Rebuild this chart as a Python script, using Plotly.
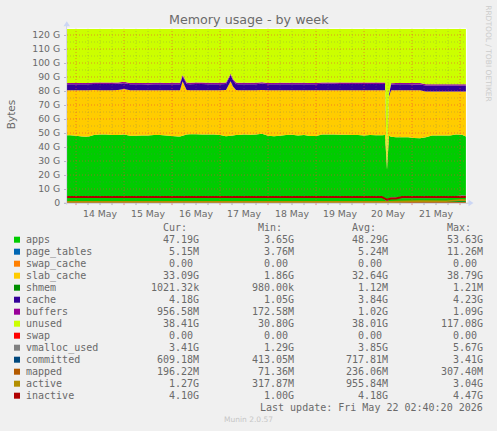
import plotly.graph_objects as go

hours = [-6,-3,0,3,6, 9,12,15,18,21, 24,27,30,33,36, 39,42,45,48,51,
         52,53.3,55.3,57,60, 63,66,69,72,75, 77.3,78.5,80,81,84, 87,90,93,96,99,
         102,105,108,111,114, 117,120,123,126,129, 132,135,138,141,144, 147,150,153,154.5,155.5,
         156.5,157.5,160,163,166, 169,172,175,178,181, 184,187,190,193,195, 198]
apps = [48.4,48.4,48.0,47.5,47.4, 48.5,49,49,48.5,48.5, 49,48,48,48.2,48.3, 48.5,48.5,48.2,47.8,47.5,
        47.5,48,49,49.2,49.2, 49,49,49,48.5,47.7, 48,48.3,48.6,48.5,49, 48.8,49,49.5,48,47.7,
        48,48.5,48.7,48.3,48.5, 47.8,47.8,49,49,49, 48.8,48.8,48.5,48.5,48.3, 48.5,48.4,48.4,48.5,24,
        48,47.3,47,47,47, 46.5,46.3,47,48.2,48.2, 48.2,48.2,49,48.8,47.5, 47.3]
slab_cache = [32.2,32.2,32.6,33.1,33.2, 32.2,31.6,31.6,32.1,32.3, 32.4,32.6,32.6,32.3,32.2, 32.1,32.1,32.4,32.8,33.1,
              33.1,39,31.8,31.4,31.4, 31.6,31.6,31.6,32.1,33.0, 39,35,32.1,32.1,31.6, 31.8,31.6,31.2,32.6,32.9,
              32.6,32.1,31.9,32.3,32.1, 32.8,32.8,31.6,31.6,31.6, 31.8,31.8,32.1,32.1,32.3, 32.1,32.2,32.2,32.1,2,
              28,33.2,33.6,33.6,33.6, 34,34.2,32.7,31.5,31.5, 31.5,31.5,30.7,30.9,32.2, 32.4]
cache = [4.2,4.2,4.2,4.3,4.3, 4.3,4.4,4.4,4.4,4.4, 4.2,4.3,4.3,4.3,4.2, 4.3,4.3,4.3,4.3,4.3,
         4.3,3.6,4.2,4.3,4.4, 4.4,4.3,4.3,4.3,4.3, 4.4,4.4,4.3,4.3,4.3, 4.3,4.3,4.6,4.3,4.3,
         4.3,4.3,4.3,4.3,4.3, 4.2,4.2,4.5,4.5,4.5, 4.4,4.4,4.4,4.4,4.4, 4.4,4.4,4.4,4.4,1.2,
         1.6,4.1,4.2,4.2,4.2, 4.2,4.2,4.2,4.2,4.2, 4.2,4.2,4.2,4.2,4.2, 4.2]
buffers = [1.0,1.0,0.9,0.9,0.9, 1.0,1.0,1.0,1.0,0.9, 1.0,0.9,0.9,0.9,1.0, 1.0,1.0,0.9,1.0,1.0,
           1.0,0.9,1.0,1.0,1.0, 1.0,1.0,1.0,1.0,1.0, 0.9,0.9,1.0,1.0,1.0, 1.0,1.0,1.0,0.9,0.9,
           1.0,1.0,1.0,1.0,1.0, 0.9,1.0,1.0,1.0,1.0, 1.0,1.0,1.0,1.0,1.0, 1.0,1.0,1.0,1.0,0.2,
           0.4,1.0,1.0,1.0,1.0, 1.0,1.0,0.9,1.0,1.0, 1.0,1.0,1.0,1.0,1.0, 1.0]
unused = [39,39,39,39,39, 39,39,39,39,39, 39,39,39,39,39, 39,39,39,39,39,
          39,33,39,39,39, 39,39,39,39,39, 33,37,39,39,39, 39,39,39,39,39,
          39,39,39,39,39, 39,39,39,39,39, 39,39,39,39,39, 39,39,39,39,98,
          47,39,39,39,39, 39,39,40,40,40, 40,40,40,40,40, 40]

line_hours = [-6,24,48,72,96,120,144,153,155.5,157.5,160,163,172,185,190,193,198]
vmalloc_used = [4.6,4.6,4.7,4.4,4.5,4.4,4.5,4.4,1.5,3.8,3.9,3.9,4.0,3.9,4.6,5.2,4.4]
committed = [0.7,0.7,0.7,0.7,0.7,0.7,0.7,0.7,0.5,0.6,0.6,0.6,0.6,0.6,0.6,0.6,0.6]
mapped = [0.24,0.24,0.24,0.24,0.24,0.24,0.24,0.24,0.1,0.2,0.2,0.2,0.2,0.2,0.2,0.2,0.2]
active = [0.9,0.9,0.9,0.9,0.9,0.9,0.9,0.9,0.4,0.8,1.0,1.2,1.4,1.3,1.6,2.2,1.3]
inactive = [4.2,4.2,4.2,4.2,4.2,4.2,4.2,4.2,2.3,3.2,3.2,4.2,4.2,4.2,4.2,4.2,4.2]

legend_names = ["apps","page_tables","swap_cache","slab_cache","shmem","cache","buffers","unused",
                "swap","vmalloc_used","committed","mapped","active","inactive"]
legend_colors = ["#00CC00","#0066B3","#FF8000","#FFCC00","#008F00","#330099","#990099","#CCFF00",
                 "#FF0000","#808080","#00487D","#B35A00","#B38F00","#B00000"]
cur_col = ["47.19G","5.15M","0.00","33.09G","1021.32k","4.18G","956.58M","38.41G","0.00","3.41G","609.18M","196.22M","1.27G","4.10G"]
min_col = ["3.65G","3.76M","0.00","1.86G","980.00k","1.05G","172.58M","30.80G","0.00","1.29G","413.05M","71.36M","317.87M","1.00G"]
avg_col = ["48.29G","5.24M","0.00","32.64G","1.12M","3.84G","1.02G","38.01G","0.00","3.85G","717.81M","236.06M","955.84M","4.18G"]
max_col = ["53.63G","11.26M","0.00","38.79G","1.21M","4.23G","1.09G","117.08G","0.00","5.67G","3.41G","307.40M","3.04G","4.47G"]

day_ticks = [12,36,60,84,108,132,156,180]
day_labels = ["14 May","15 May","16 May","17 May","18 May","19 May","20 May","21 May"]
day_lines = [0,24,48,72,96,120,144,168,192]
six_hour_lines = [6,12,18,30,36,42,54,60,66,78,84,90,102,108,114,126,132,138,150,156,162,174,180,186]
major_y = [10,20,30,40,50,60,70,80,90,100,110,120]
minor_y = [5,15,25,35,45,55,65,75,85,95,105,115]
y_ticks = [0,10,20,30,40,50,60,70,80,90,100,110,120]
y_labels = ["0","10 G","20 G","30 G","40 G","50 G","60 G","70 G","80 G","90 G","100 G","110 G","120 G"]

W, H = 497, 431
L, R, T, B = 67.0, 466.0, 29.3, 203.3
def fx(x): return (x - L) / (R - L)
def fy(y): return (B - y) / (B - T)

fig = go.Figure()
for name, vals, col in [("apps",apps,"#00CC00"),("slab_cache",slab_cache,"#FFCC00"),("cache",cache,"#330099"),
                        ("buffers",buffers,"#990099"),("unused",unused,"#CCFF00")]:
    fig.add_trace(go.Scatter(x=hours,y=vals,name=name,stackgroup="m",mode="none",fillcolor=col,showlegend=False))
for name, vals, col, w in [("vmalloc_used",vmalloc_used,"#808080",1.2),("committed",committed,"#00487D",1),
                           ("mapped",mapped,"#B35A00",1.2),("active",active,"#B38F00",1.6),("inactive",inactive,"#B00000",2)]:
    fig.add_trace(go.Scatter(x=line_hours,y=vals,name=name,mode="lines",line=dict(color=col,width=w),showlegend=False))

shapes = []
dash = "1px,2px"
for v in six_hour_lines:
    shapes.append(dict(type="line",xref="x",yref="paper",x0=v,x1=v,y0=0,y1=1.006,layer="above",
                       line=dict(color="rgba(110,110,110,0.30)",width=1,dash=dash)))
for v in minor_y:
    shapes.append(dict(type="line",xref="paper",yref="y",x0=0,x1=1,y0=v,y1=v,layer="above",
                       line=dict(color="rgba(110,110,110,0.30)",width=1,dash=dash)))
for v in day_lines:
    shapes.append(dict(type="line",xref="x",yref="paper",x0=v,x1=v,y0=0,y1=1.006,layer="above",
                       line=dict(color="rgba(235,60,60,0.55)",width=1,dash=dash)))
    shapes.append(dict(type="line",xref="x",yref="paper",x0=v,x1=v,y0=-0.012,y1=0,layer="above",
                       line=dict(color="rgba(220,90,90,0.7)",width=1)))
for v in major_y:
    shapes.append(dict(type="line",xref="paper",yref="y",x0=0,x1=1,y0=v,y1=v,layer="above",
                       line=dict(color="rgba(235,60,60,0.55)",width=1,dash=dash)))
for v in six_hour_lines:
    shapes.append(dict(type="line",xref="x",yref="paper",x0=v,x1=v,y0=-0.012,y1=0,layer="above",
                       line=dict(color="rgba(150,150,150,0.7)",width=1)))
shapes.append(dict(type="line",xref="paper",yref="paper",x0=fx(466.5),x1=fx(466.5),y0=fy(203),y1=fy(29),layer="above",
                   line=dict(color="#ffffff",width=1.2)))
shapes.append(dict(type="line",xref="paper",yref="paper",x0=fx(67),x1=fx(466),y0=fy(28.6),y1=fy(28.6),layer="above",
                   line=dict(color="rgba(255,255,255,0.9)",width=1)))
shapes.append(dict(type="line",xref="paper",yref="paper",x0=fx(64),x1=fx(472),y0=fy(203.5),y1=fy(203.5),layer="above",
                   line=dict(color="rgba(190,190,205,0.8)",width=1)))
shapes.append(dict(type="line",xref="paper",yref="paper",x0=fx(66.6),x1=fx(66.6),y0=fy(205),y1=fy(25),layer="above",
                   line=dict(color="rgba(205,205,225,0.8)",width=1)))
def pth(pts):
    return "M" + " L".join(f"{fx(a):.5f},{fy(b):.5f}" for a, b in pts) + " Z"
shapes.append(dict(type="path",xref="paper",yref="paper",path=pth([(66.8,21.5),(63.5,26.5),(70,26.5)]),
                   fillcolor="#ccd6f4",line=dict(width=0),layer="above"))
shapes.append(dict(type="path",xref="paper",yref="paper",path=pth([(473.5,203.3),(468.5,200),(468.5,206.5)]),
                   fillcolor="#ccd6f4",line=dict(width=0),layer="above"))

ann = []
def text(x, y, s, anchor="left", size=10, color="#6a6a6a", fam="DejaVu Sans Mono", angle=0):
    ann.append(dict(xref="paper",yref="paper",x=fx(x),y=fy(y),text=s,showarrow=False,xanchor=anchor,yanchor="middle",
                    textangle=angle,font=dict(family=fam,size=size,color=color),borderpad=0,borderwidth=0))

for x, s in [(163,"Cur:"),(258,"Min:"),(352,"Avg:"),(446.7,"Max:")]:
    text(x, 228, s)
for i, name in enumerate(legend_names):
    yy = 240 + 12 * i
    shapes.append(dict(type="rect",xref="paper",yref="paper",x0=fx(14),x1=fx(20),y0=fy(yy+3),y1=fy(yy-3),
                       fillcolor=legend_colors[i],line=dict(width=0),layer="above"))
    text(26.3, yy, name)
    for col, right, zero_right in [(cur_col,198.7,192.7),(min_col,294,288),(avg_col,388,381.7),(max_col,482.7,476.7)]:
        s = col[i]
        text(zero_right if s == "0.00" else right, yy, s, anchor="right")
text(482.7, 407.7, "Last update: Fri May 22 02:40:20 2026", anchor="right")
text(248, 420, "Munin 2.0.57", anchor="center", size=7.5, color="#c6c6c6", fam="DejaVu Sans")
text(248.5, 19.5, "Memory usage - by week", anchor="center", size=12.7, color="#6a6a6a", fam="DejaVu Sans")
text(10.5, 115, "Bytes", anchor="center", size=10.5, color="#6a6a6a", fam="DejaVu Sans", angle=-90)
text(488.5, 54, "RRDTOOL / TOBI OETIKER", anchor="center", size=7.5, color="#cccccc", fam="DejaVu Sans", angle=90)

fig.update_layout(
    width=W, height=H, autosize=False,
    margin=dict(l=L, r=W-R, t=T, b=H-B, pad=0),
    paper_bgcolor="#f0f0f0", plot_bgcolor="#f0f0f0",
    showlegend=False, shapes=shapes, annotations=ann,
    xaxis=dict(range=[-4.5,195],tickmode="array",tickvals=day_ticks,ticktext=day_labels,showgrid=False,zeroline=False,
               ticks="",tickfont=dict(family="DejaVu Sans",size=9.3,color="#6a6a6a"),ticklabelstandoff=4,fixedrange=True),
    yaxis=dict(range=[0,124.3],tickmode="array",tickvals=y_ticks,ticktext=y_labels,showgrid=False,zeroline=False,
               ticks="outside",ticklen=2,tickcolor="#b8b8c8",tickfont=dict(family="DejaVu Sans",size=9.3,color="#6a6a6a"),
               ticklabelstandoff=2,fixedrange=True),
)
fig.write_html("out.html", config=dict(displayModeBar=False),
               post_script="document.body.style.margin='0';document.body.style.overflow='hidden';document.body.style.background='#f0f0f0';")
